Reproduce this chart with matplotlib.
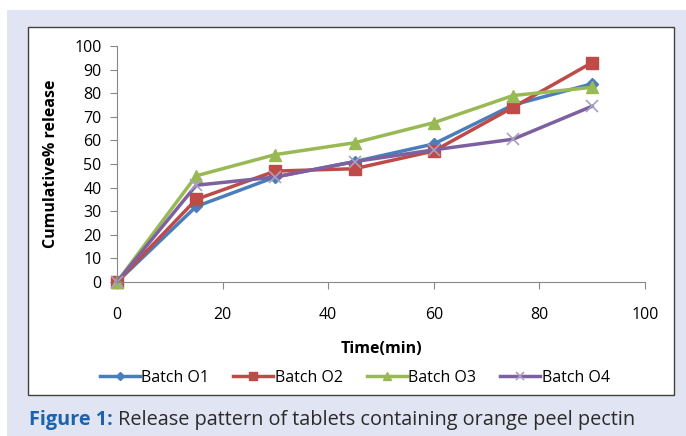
import matplotlib.pyplot as plt
from matplotlib.patches import Rectangle

plt.rcParams['font.family'] = ['Open Sans', 'DejaVu Sans']

time = [0, 15, 30, 45, 60, 75, 90]
batch_o1 = [0, 32, 44.5, 51, 58.5, 75, 84]
batch_o2 = [0, 35, 47, 48, 55.5, 74, 93]
batch_o3 = [0, 45, 54, 59, 67.5, 79, 82.5]
batch_o4 = [0, 41, 44.5, 51, 56, 60.5, 74.5]
labels = ['Batch O1', 'Batch O2', 'Batch O3', 'Batch O4']

W, H = 686, 436
fig = plt.figure(figsize=(W / 100, H / 100), dpi=100)

# lavender frame and white chart area
fig.patches.append(Rectangle((7 / W, 0), 1, 1 - 10 / H, transform=fig.transFigure,
                             facecolor='#E1E4F2', edgecolor='none', zorder=-2))
fig.patches.append(Rectangle((28 / W, 1 - 395 / H), (674 - 28) / W, (395 - 27) / H,
                             transform=fig.transFigure, facecolor='white',
                             edgecolor='#404040', linewidth=1.0, zorder=-1))

ax = fig.add_axes([117 / W, 1 - 282 / H, (645 - 117) / W, (282 - 46) / H])
ax.set_facecolor('none')

styles = [('#4A7EBB', 'D', 6), ('#BE4B48', 's', 9), ('#98B954', '^', 8), ('#7D60A0', 'x', 9)]
for ys, lab, (c, m, ms) in zip([batch_o1, batch_o2, batch_o3, batch_o4], labels, styles):
    if m == 'x':
        ax.plot(time, ys, color=c, lw=2.5, marker=m, ms=ms, mec='#A9A0C0', mew=1.2,
                label=lab, clip_on=False)
    else:
        ax.plot(time, ys, color=c, lw=2.5, marker=m, ms=ms, label=lab, clip_on=False)

ax.set_xlim(0, 100)
ax.set_ylim(0, 100)
ax.set_xticks(range(0, 101, 20))
ax.set_yticks(range(0, 101, 10))
ax.tick_params(labelsize=11.5, colors='#888888', labelcolor='black', length=5, direction='out')
ax.tick_params(axis='x', pad=13)
ax.tick_params(axis='y', pad=6)
for s in ['top', 'right']:
    ax.spines[s].set_visible(False)
for s in ['left', 'bottom']:
    ax.spines[s].set_color('#888888')

ax.set_xlabel('Time(min)', fontsize=11.5, fontweight='bold', labelpad=13)
ax.set_ylabel('Cumulative% release', fontsize=11.5, fontweight='bold', labelpad=11)

ax.legend(loc='upper center', bbox_to_anchor=(0.45, -0.31), ncol=4, frameon=False,
          fontsize=11.5, handlelength=2.5, columnspacing=1.5, handletextpad=0.1,
          markerscale=0.7)

t1 = fig.text(29 / W, 1 - 420 / H, 'Figure 1:', color='#1B63AE', fontsize=14.3,
              fontweight='bold', va='center', ha='left')
fig.canvas.draw()
x_end = t1.get_window_extent().x1
fig.text((x_end + 5) / W, 1 - 420 / H,
         'Release pattern of tablets containing orange peel pectin',
         color='#2B2B2B', fontsize=14.3, va='center', ha='left')

fig.savefig('out.png', dpi=100)
